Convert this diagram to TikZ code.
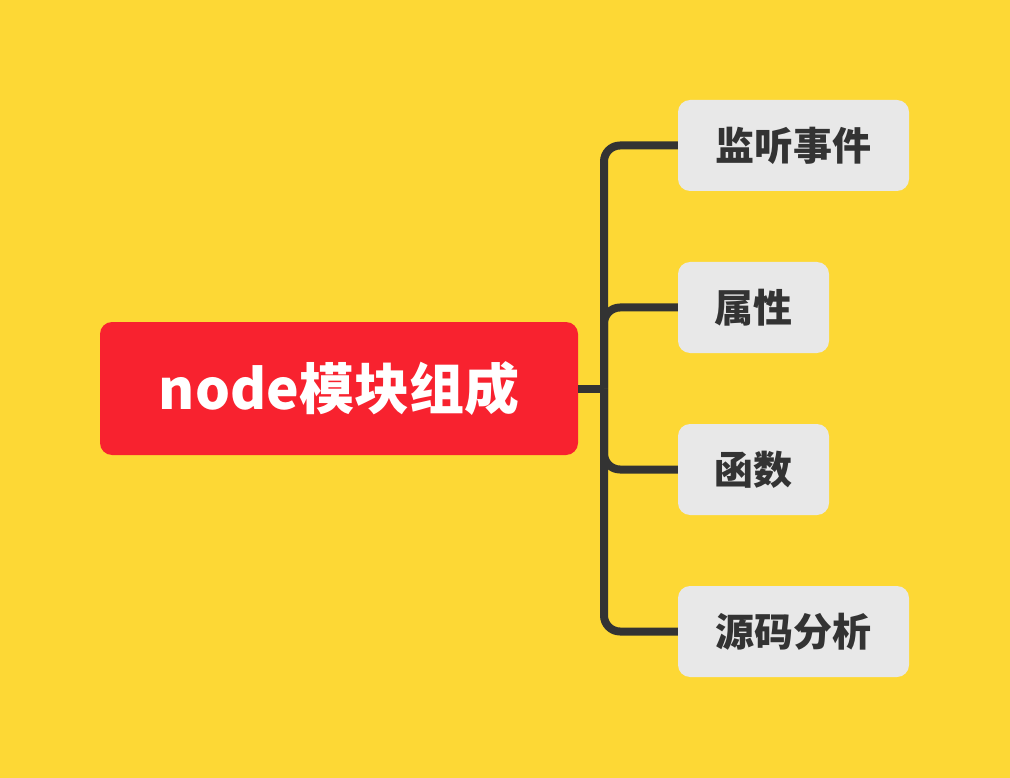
\documentclass[tikz,border=0pt]{standalone}
\usepackage{fontspec}
\newfontfamily\cjk{Noto Sans CJK SC}
\definecolor{bgyellow}{HTML}{FDD835}
\definecolor{rootred}{HTML}{F8222F}
\definecolor{childgray}{HTML}{E8E8E8}
\definecolor{linegray}{HTML}{333333}
\tikzset{
  rootbox/.style={fill=rootred, rounded corners=12pt, minimum width=478pt, minimum height=133pt, inner sep=0pt, text=white, font=\cjk\bfseries\fontsize{55pt}{60pt}\selectfont},
  childbox/.style={fill=childgray, rounded corners=12pt, minimum height=91pt, inner sep=0pt, text=linegray, font=\cjk\bfseries\fontsize{39pt}{44pt}\selectfont},
  conn/.style={draw=linegray, line width=8pt},
}
\begin{document}
\begin{tikzpicture}[x=1pt,y=-1pt]
\fill[bgyellow] (0,0) rectangle (1010,778);
\useasboundingbox (0,0) rectangle (1010,778);
\node[rootbox] (root) at (339,388.5) {node模块组成};
\node[childbox, minimum width=231pt] (c1) at (793.5,145.5) {监听事件};
\node[childbox, minimum width=151pt] (c2) at (753.5,307.5) {属性};
\node[childbox, minimum width=151pt] (c3) at (753.5,469.5) {函数};
\node[childbox, minimum width=231pt] (c4) at (793.5,631.5) {源码分析};
\coordinate (j) at (604,388.5);
\draw[conn] (root.east) -- (j);
\foreach \c in {c1,c2,c3,c4}{
  \draw[conn, rounded corners=16pt] (j) |- (\c.west);
}
\end{tikzpicture}
\end{document}
